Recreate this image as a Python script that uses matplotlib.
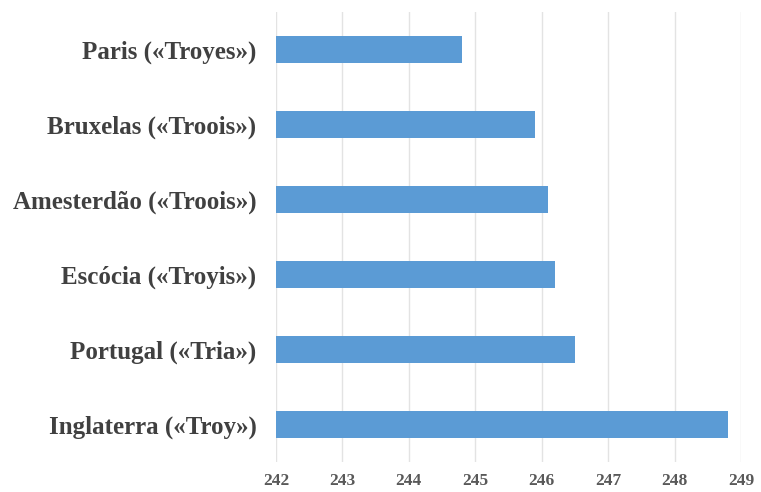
import matplotlib
matplotlib.use("Agg")
import matplotlib.pyplot as plt

categories = ["Paris («Troyes»)", "Bruxelas («Troois»)", "Amesterdão («Troois»)",
              "Escócia («Troyis»)", "Portugal («Tria»)", "Inglaterra («Troy»)"]
values = [244.8, 245.9, 246.1, 246.2, 246.5, 248.8]
xticks = [242, 243, 244, 245, 246, 247, 248, 249]

fig = plt.figure(figsize=(7.61, 4.92), dpi=100)
ax = fig.add_axes([276/761, 1-462/492, (741-276)/761, (462-12)/492])

ypos = list(range(len(categories)))[::-1]
base = xticks[0]
ax.barh(ypos, [v - base for v in values], left=base, height=0.35, color="#5B9BD5", zorder=3)

ax.set_xlim(xticks[0], xticks[-1])
ax.set_ylim(-0.5, len(categories) - 0.5)
ax.set_xticks(xticks)
ax.set_xticklabels([str(t) for t in xticks], fontfamily="Liberation Serif", fontweight="bold",
                   fontsize=12.5, color="#595959")
ax.set_yticks(ypos)
ax.set_yticklabels(categories, fontfamily="Liberation Serif", fontweight="bold",
                   fontsize=18, color="#404040")
ax.tick_params(axis="both", length=0)
ax.tick_params(axis="x", pad=8)
ax.tick_params(axis="y", pad=14)
ax.grid(axis="x", color="#e3e3e3", linewidth=1, zorder=0)
for s in ax.spines.values():
    s.set_visible(False)

fig.savefig("out.png", dpi=100, facecolor="white")
